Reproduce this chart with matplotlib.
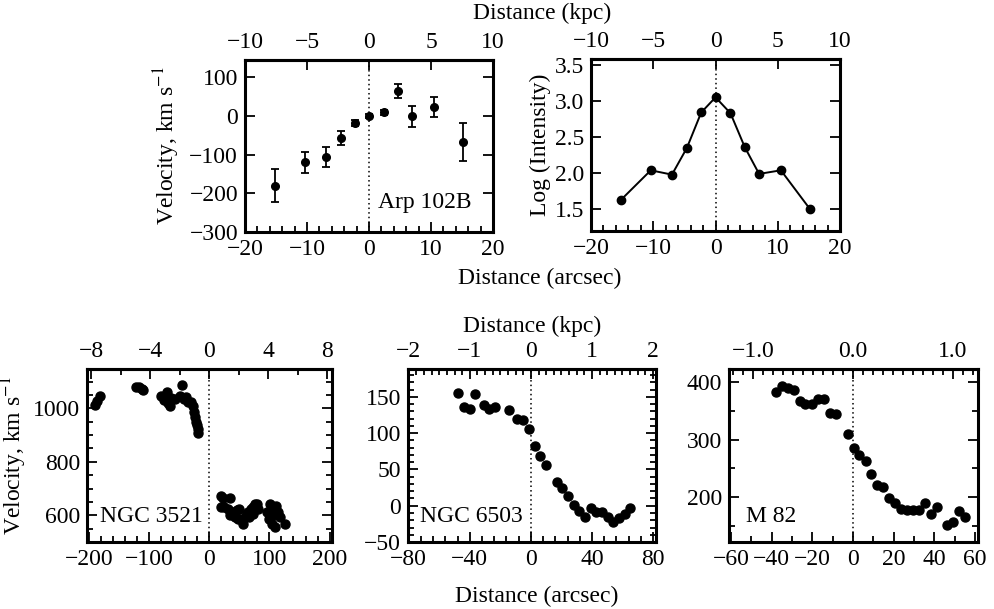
import matplotlib
matplotlib.use("Agg")
import matplotlib.pyplot as plt
from matplotlib.ticker import MultipleLocator, FuncFormatter, NullLocator

plt.rcParams["font.family"] = "Liberation Serif"
plt.rcParams["mathtext.fontset"] = "stix"
plt.rcParams["font.size"] = 17
plt.rcParams["axes.unicode_minus"] = True

# ---- Arp 102B: velocity (with errors) and log intensity vs. distance -----------
arp_x = [-15.2, -10.4, -7.0, -4.6, -2.3, 0.0, 2.4, 4.7, 7.0, 10.5, 15.2]
arp_v = [-180, -120, -106, -57, -18, 0, 10, 65, 0, 24, -67]
arp_err = [42, 26, 27, 18, 8, 6, 6, 17, 27, 26, 48]
arp_logi = [1.63, 2.04, 1.98, 2.35, 2.84, 3.05, 2.83, 2.36, 1.99, 2.04, 1.50]

# ---- NGC 3521 -----------------------------------------------------------------
n3521_x = [-190.5, -186.7, -182, -122, -116.7, -112, -110,
           -79.4, -70, -75.5, -68.3, -64.4, -62.7, -57, -44.4, -47.7, -42, -37.7,
           -35, -30.5, -27.7, -25.5, -23.8, -22.2, -21, -19.4, -18.3,
           19.5, 22.3, 34.5, 20.0, 24.5, 31.7, 34.5, 40, 46.7, 50, 42.8, 48.3, 54,
           56.7, 59.5, 62.3, 65, 69, 73.3, 76, 79, 81.7, 73.3, 66.7, 95.7, 101,
           105.7, 111, 115, 107.8, 100, 104, 109.5, 117.8, 126]
n3521_v = [1012, 1029, 1047, 1081, 1079, 1074, 1069,
           1046, 1062, 1031, 1021, 1009, 1037, 1034, 1087, 1046, 1034, 1044,
           1025, 1025, 1009, 987, 969, 950, 937, 921, 909,
           671, 663, 666, 631, 631, 625, 600, 612, 619, 625, 594, 587, 581,
           569, 594, 606, 612, 625, 631, 644, 641, 625, 606, 594, 612, 644,
           631, 634, 612, 600, 587, 569, 556, 594, 569]

# ---- NGC 6503 -----------------------------------------------------------------
n6503_x = [-47.7, -43.7, -40, -36.3, -30.8, -27.3, -23.2, -14.2, -9, -5, -1.1,
           2.6, 5.9, 9.8, 17.3, 20.5, 24, 28.2, 31.7, 35.4, 39.1, 42.6, 46.4,
           50.3, 54, 57.9, 61.6, 64.9]
n6503_v = [155, 135.5, 133, 154, 138.7, 133, 135.5, 132, 120, 118, 105.6,
           81.8, 68.9, 56, 33, 24.4, 13, 1, -6.9, -16, -3.2, -8.2, -9,
           -16, -22, -17.4, -11.4, -3.6]

# ---- M 82 ---------------------------------------------------------------------
m82_x = [-37.8, -34.9, -32.1, -29.2, -26.2, -23.4, -20.1, -17.4, -14.4, -11.5,
         -8.4, -2.7, 0.3, 3.2, 6.2, 9.1, 11.9, 15, 17.8, 20.8, 23.7, 26.5, 29.5,
         32.4, 35.5, 38.5, 41.3, 46.2, 49.1, 52.2, 55.2]
m82_v = [382, 393, 390, 386, 367, 361, 361, 371, 370, 347,
         344, 310, 285, 274, 263, 240, 221, 218, 199, 190, 180, 177, 178,
         177, 190, 171, 183, 152, 156, 176, 165]

FS = 17


def minus(fmt):
    return FuncFormatter(lambda v, p: (fmt % v).replace("-", "\u2212"))


def setup(ax, xlim, ylim, xmaj, xmin, ymaj, ymin, scale, kmaj, kmin, kfmt="%g"):
    ax.set_xlim(xlim); ax.set_ylim(ylim)
    ax.xaxis.set_major_locator(MultipleLocator(xmaj))
    ax.xaxis.set_minor_locator(MultipleLocator(xmin) if xmin else NullLocator())
    ax.yaxis.set_major_locator(MultipleLocator(ymaj))
    ax.yaxis.set_minor_locator(MultipleLocator(ymin) if ymin else NullLocator())
    ax.xaxis.set_major_formatter(minus("%g"))
    ax.yaxis.set_major_formatter(minus("%g"))
    ax.tick_params(which="both", direction="in", top=False, right=True,
                   width=1.3, labelsize=FS, pad=5)
    ax.tick_params(which="major", length=7)
    ax.tick_params(which="minor", length=4)
    for s in ax.spines.values():
        s.set_linewidth(2.2)
    sec = ax.secondary_xaxis("top", functions=(lambda a: a / scale, lambda k: k * scale))
    sec.xaxis.set_major_locator(MultipleLocator(kmaj))
    sec.xaxis.set_minor_locator(MultipleLocator(kmin) if kmin else NullLocator())
    sec.xaxis.set_major_formatter(minus(kfmt))
    sec.tick_params(which="both", direction="in", width=1.3, labelsize=FS, pad=5)
    sec.tick_params(which="major", length=7)
    sec.tick_params(which="minor", length=4)
    sec.spines["top"].set_linewidth(2.2)
    ax.axvline(0, color="k", ls=(0, (1, 2)), lw=1.1, zorder=1)
    return sec


fig = plt.figure(figsize=(9.94, 6.09), dpi=100)

# top row
ax1 = fig.add_axes([0.2465, 0.619, 0.2495, 0.2824])
setup(ax1, (-20, 20), (-300, 145), 10, 2, 100, None, 2.0, 5, None)
ax1.errorbar(arp_x, arp_v, yerr=arp_err, fmt="o", color="k", ms=5.5,
             elinewidth=1.3, capsize=3, capthick=1.3)
ax1.set_ylabel("Velocity, km s$^{-1}$", fontsize=FS)
ax1.yaxis.set_label_coords(-0.255, 0.5)
ax1.text(0.536, 0.169, "Arp 102B", transform=ax1.transAxes, fontsize=FS,
         ha="left", va="center")

ax2 = fig.add_axes([0.5946, 0.6207, 0.2505, 0.2824])
setup(ax2, (-20, 20), (1.2, 3.58), 10, 2, 0.5, None, 2.0, 5, None)
ax2.yaxis.set_major_formatter(minus("%.1f"))
ax2.plot(arp_x, arp_logi, "o-", color="k", ms=6, lw=1.4)
ax2.set_ylabel("Log (Intensity)", fontsize=FS)
ax2.yaxis.set_label_coords(-0.16, 0.5)

# bottom row
ax3 = fig.add_axes([0.0875, 0.110, 0.2465, 0.2835])
setup(ax3, (-203, 204), (500, 1146), 100, 20, 200, 50, 24.5, 4, 2)
ax3.plot(n3521_x, n3521_v, "o", color="k", ms=6.5)
ax3.set_ylabel("Velocity, km s$^{-1}$", fontsize=FS)
ax3.yaxis.set_label_coords(-0.235, 0.5)
ax3.text(0.052, 0.145, "NGC 3521", transform=ax3.transAxes, fontsize=FS,
         ha="left", va="center")

ax4 = fig.add_axes([0.4105, 0.110, 0.2495, 0.2835])
setup(ax4, (-80.5, 82), (-50, 188), 40, 8, 50, 10, 40.0, 1, 0.125)
ax4.plot(n6503_x, n6503_v, "o", color="k", ms=6.5)
ax4.text(0.047, 0.145, "NGC 6503", transform=ax4.transAxes, fontsize=FS,
         ha="left", va="center")

ax5 = fig.add_axes([0.7334, 0.110, 0.2505, 0.2835])
setup(ax5, (-61, 61.5), (122, 422), 20, 10, 100, 50, 49.0, 1.0, 0.1, "%.1f")
ax5.plot(m82_x, m82_v, "o", color="k", ms=6.5)
ax5.text(0.07, 0.145, "M 82", transform=ax5.transAxes, fontsize=FS,
         ha="left", va="center")

fig.text(542 / 994, 1 - 13 / 609, "Distance (kpc)", ha="center", va="center", fontsize=FS)
fig.text(540 / 994, 1 - 278 / 609, "Distance (arcsec)", ha="center", va="center", fontsize=FS)
fig.text(532 / 994, 1 - 326 / 609, "Distance (kpc)", ha="center", va="center", fontsize=FS)
fig.text(537 / 994, 1 - 596 / 609, "Distance (arcsec)", ha="center", va="center", fontsize=FS)

fig.savefig("out.png", dpi=100)
plt.close(fig)
